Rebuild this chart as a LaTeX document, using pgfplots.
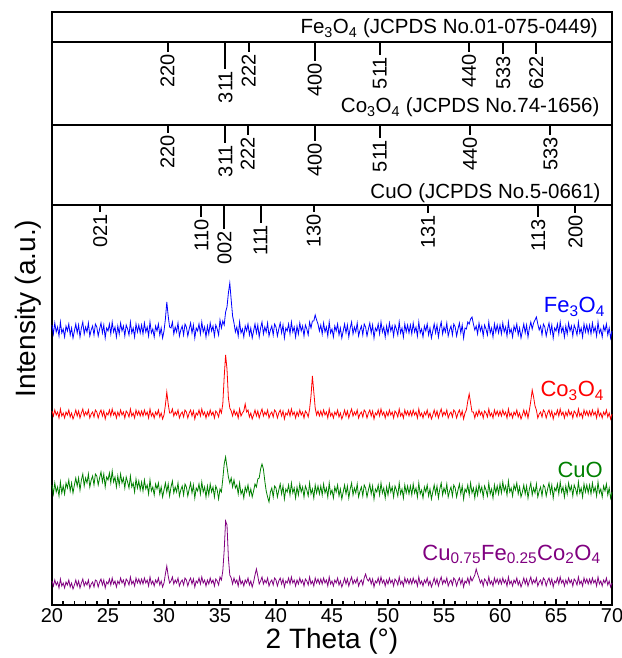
\documentclass[border=0pt]{standalone}
\usepackage{fontspec}
\setmainfont{Liberation Sans}
\usepackage{pgfplots}
\usepackage{pgfplotstable}
\pgfplotsset{compat=1.18}
\definecolor{cblue}{RGB}{0,0,255}
\definecolor{cred}{RGB}{255,0,0}
\definecolor{cgreen}{RGB}{0,128,0}
\definecolor{cpurple}{RGB}{128,0,128}
\newcommand{\titlefont}{\fontsize{20.5}{24}\selectfont}
\newcommand{\stickfont}{\fontsize{20}{22}\selectfont}
\newcommand{\serfont}{\fontsize{22}{26}\selectfont}
% columns: 2theta, Fe3O4, Co3O4, CuO, Cu0.75Fe0.25Co2O4 (offset intensities)
\pgfplotstableread{
x fe co cu mix
20 280 194 120 24
20.125 271 189 111 19
20.25 282 195 122 25
20.375 273 190 113 20
20.5 278 193 118 23
20.625 269 187 109 17
20.75 283 196 123 26
20.875 272 189 112 19
21 276 192 119 22
21.125 268 187 111 17
21.25 279 193 122 23
21.375 274 190 117 20
21.5 281 195 125 25
21.625 270 188 114 18
21.75 277 192 122 22
21.875 267 186 112 16
22 274 190 120 20
22.125 281 195 127 25
22.25 272 189 119 19
22.375 280 194 127 24
22.5 268 187 115 17
22.625 277 192 125 22
22.75 283 196 131 26
22.875 271 189 119 19
23 278 193 127 23
23.125 273 190 122 20
23.25 282 195 131 25
23.375 269 187 118 17
23.5 275 191 125 21
23.625 279 193 129 23
23.75 270 188 120 18
23.875 281 195 131 25
24 278 193 129 24
24.125 269 187 120 18
24.25 276 192 127 23
24.375 282 195 133 26
24.5 272 189 123 20
24.625 280 194 131 25
24.75 267 186 118 17
24.875 277 192 128 23
25 274 190 125 21
25.125 281 195 132 26
25.25 271 189 122 20
25.375 283 196 134 27
25.5 273 190 123 21
25.625 278 193 128 24
25.75 268 187 118 18
25.875 279 193 129 24
26 271 189 120 21
26.125 282 195 131 27
26.25 274 190 122 22
26.375 279 193 127 25
26.5 269 187 117 19
26.625 280 194 128 26
26.75 276 192 123 24
26.875 270 188 117 20
27 283 196 129 28
27.125 272 189 118 21
27.25 277 192 122 24
27.375 268 187 113 19
27.5 281 195 126 27
27.625 273 190 117 22
27.75 280 194 124 26
27.875 272 189 115 21
28 280 194 123 26
28.125 271 189 114 21
28.25 282 195 125 27
28.375 273 190 116 22
28.5 278 193 120 25
28.625 269 187 111 19
28.75 283 196 125 28
28.875 272 189 114 21
29 276 192 118 24
29.125 268 187 110 19
29.25 279 193 121 25
29.375 274 190 116 22
29.5 281 195 122 27
29.625 270 188 111 20
29.75 277 192 118 24
29.875 267 186 108 18
30 274 190 115 22
30.125 286 200 122 31
30.25 303 213 113 39
30.375 289 201 121 29
30.5 278 192 109 22
30.625 277 192 118 24
30.75 283 196 124 28
30.875 271 189 112 21
31 278 193 118 25
31.125 273 190 113 22
31.25 282 195 122 27
31.375 269 187 109 19
31.5 275 191 115 23
31.625 279 193 119 25
31.75 270 188 110 20
31.875 281 195 121 27
32 278 193 118 25
32.125 269 187 109 19
32.25 276 192 116 24
32.375 282 195 122 27
32.5 272 189 112 21
32.625 280 194 120 26
32.75 267 186 107 18
32.875 277 192 117 24
33 274 190 114 22
33.125 281 195 121 27
33.25 271 189 111 21
33.375 283 196 123 28
33.5 273 190 113 22
33.625 278 193 118 25
33.75 268 187 108 19
33.875 279 193 119 25
34 271 189 110 21
34.125 282 195 121 27
34.25 274 190 113 22
34.375 279 193 118 25
34.5 269 187 108 19
34.625 280 194 119 26
34.75 276 192 115 24
34.875 270 188 106 20
35 285 196 116 28
35.125 277 192 113 25
35.25 284 201 126 34
35.375 280 228 141 55
35.5 293 250 148 84
35.625 298 236 138 80
35.75 312 207 128 47
35.875 322 197 122 30
36 305 194 127 27
36.125 289 189 118 21
36.25 282 195 125 27
36.375 273 190 117 22
36.5 278 193 120 25
36.625 269 187 111 19
36.75 283 196 122 28
36.875 272 189 111 21
37 276 192 115 24
37.125 268 194 107 19
37.25 279 201 118 25
37.375 274 193 113 22
37.5 281 195 120 27
37.625 270 188 110 20
37.75 277 192 116 24
37.875 267 186 108 18
38 274 190 114 23
38.125 281 195 121 30
38.25 272 189 118 36
38.375 280 194 126 29
38.5 268 187 127 21
38.625 277 192 136 24
38.75 283 196 141 28
38.875 271 189 136 21
39 278 193 124 25
39.125 273 190 114 22
39.25 282 195 108 27
39.375 269 187 103 19
39.5 275 191 113 23
39.625 279 193 117 25
39.75 270 188 108 20
39.875 281 195 119 27
40 278 193 117 25
40.125 269 187 108 19
40.25 276 192 115 24
40.375 282 195 121 27
40.5 272 189 111 21
40.625 280 194 119 26
40.75 267 186 106 18
40.875 277 192 116 24
41 274 190 113 22
41.125 281 195 120 27
41.25 271 189 110 21
41.375 283 196 122 28
41.5 273 190 112 22
41.625 278 193 117 25
41.75 268 187 107 19
41.875 279 193 118 25
42 271 189 110 21
42.125 282 195 121 27
42.25 274 190 113 22
42.375 279 193 118 25
42.5 269 187 108 19
42.625 280 194 119 26
42.75 276 192 115 24
42.875 270 188 109 20
43 283 196 122 28
43.125 277 209 111 21
43.25 284 229 116 24
43.375 284 213 107 19
43.5 290 197 120 27
43.625 285 190 112 22
43.75 281 194 119 26
43.875 274 189 111 21
44 280 194 119 26
44.125 271 189 110 21
44.25 282 195 121 27
44.375 273 190 112 22
44.5 278 193 117 25
44.625 269 187 108 19
44.75 283 196 122 28
44.875 272 189 111 21
45 276 192 115 24
45.125 268 187 107 19
45.25 279 193 118 25
45.375 274 190 113 22
45.5 281 195 120 27
45.625 270 188 109 20
45.75 277 192 116 24
45.875 267 186 106 18
46 274 190 113 22
46.125 281 195 120 27
46.25 272 189 111 21
46.375 280 194 119 26
46.5 268 187 107 19
46.625 277 192 116 24
46.75 283 196 122 28
46.875 271 189 110 21
47 278 193 117 25
47.125 273 190 112 22
47.25 282 195 121 27
47.375 269 187 108 19
47.5 275 191 114 23
47.625 279 193 118 25
47.75 270 188 109 20
47.875 281 195 120 27
48 278 193 117 31
48.125 269 187 108 26
48.25 276 192 115 24
48.375 282 195 121 27
48.5 272 189 111 21
48.625 280 194 119 26
48.75 267 186 106 18
48.875 277 192 116 24
49 274 190 113 22
49.125 281 195 120 27
49.25 271 189 110 21
49.375 283 196 122 28
49.5 273 190 112 22
49.625 278 193 117 25
49.75 268 187 107 19
49.875 279 193 118 25
50 271 189 110 21
50.125 282 195 121 27
50.25 274 190 113 22
50.375 279 193 118 25
50.5 269 187 108 19
50.625 280 194 119 26
50.75 276 192 115 24
50.875 270 188 109 20
51 283 196 122 28
51.125 272 189 111 21
51.25 277 192 116 24
51.375 268 187 107 19
51.5 281 195 120 27
51.625 273 190 112 22
51.75 280 194 119 26
51.875 272 189 111 21
52 280 194 119 26
52.125 271 189 110 21
52.25 282 195 121 27
52.375 273 190 112 22
52.5 278 193 117 25
52.625 269 187 108 19
52.75 283 196 122 28
52.875 272 189 111 21
53 276 192 115 24
53.125 268 187 107 19
53.25 279 193 118 25
53.375 274 190 113 22
53.5 281 195 120 27
53.625 270 188 109 20
53.75 277 192 116 24
53.875 267 186 106 18
54 274 190 113 22
54.125 281 195 120 27
54.25 272 189 111 21
54.375 280 194 119 26
54.5 268 187 107 19
54.625 277 192 116 24
54.75 283 196 122 28
54.875 271 189 110 21
55 278 193 117 25
55.125 273 190 112 22
55.25 282 195 121 27
55.375 269 187 108 19
55.5 275 191 114 23
55.625 279 193 118 25
55.75 270 188 109 20
55.875 281 195 120 27
56 278 193 117 25
56.125 269 187 108 19
56.25 276 192 115 24
56.375 282 195 121 27
56.5 272 189 111 21
56.625 280 194 119 26
56.75 267 186 106 18
56.875 277 192 116 24
57 276 195 113 22
57.125 283 204 120 27
57.25 281 211 110 21
57.375 286 202 122 28
57.5 288 193 112 24
57.625 281 193 117 27
57.75 275 187 107 30
57.875 279 193 118 36
58 271 189 110 31
58.125 282 195 121 27
58.25 274 190 113 22
58.375 279 193 118 25
58.5 269 187 108 19
58.625 280 194 119 26
58.75 276 192 115 24
58.875 270 188 109 20
59 283 196 122 28
59.125 272 189 111 21
59.25 277 192 116 24
59.375 268 187 107 19
59.5 281 195 120 27
59.625 273 190 112 22
59.75 280 194 119 26
59.875 272 189 111 21
60 280 194 121 26
60.125 271 189 112 21
60.25 282 195 123 27
60.375 273 190 114 22
60.5 278 193 119 25
60.625 269 187 110 19
60.75 283 196 124 28
60.875 272 189 113 21
61 276 192 117 24
61.125 268 187 109 19
61.25 279 193 120 25
61.375 274 190 115 22
61.5 281 195 122 27
61.625 270 188 111 20
61.75 277 192 118 24
61.875 267 186 108 18
62 274 190 113 22
62.125 281 195 120 27
62.25 272 189 111 21
62.375 280 194 119 26
62.5 268 187 107 19
62.625 277 195 116 24
62.75 283 204 122 28
62.875 276 215 110 21
63 282 208 117 25
63.125 285 199 112 22
63.25 288 195 121 27
63.375 281 187 108 19
63.5 275 191 114 23
63.625 279 193 118 25
63.75 270 188 109 20
63.875 281 195 120 27
64 278 193 118 25
64.125 269 187 109 19
64.25 276 192 116 24
64.375 282 195 122 27
64.5 272 189 112 21
64.625 280 194 120 26
64.75 267 186 107 18
64.875 277 192 117 24
65 274 190 114 22
65.125 281 195 121 27
65.25 271 189 111 21
65.375 283 196 123 28
65.5 273 190 113 22
65.625 278 193 118 25
65.75 268 187 108 19
65.875 279 193 119 25
66 271 189 111 21
66.125 282 195 122 27
66.25 274 190 114 22
66.375 279 193 119 25
66.5 269 187 109 19
66.625 280 194 120 26
66.75 276 192 116 24
66.875 270 188 110 20
67 283 196 123 28
67.125 272 189 112 21
67.25 277 192 117 24
67.375 268 187 108 19
67.5 281 195 121 27
67.625 273 190 113 22
67.75 280 194 120 26
67.875 272 189 112 21
68 280 194 120 26
68.125 271 189 111 21
68.25 282 195 122 27
68.375 273 190 113 22
68.5 278 193 118 25
68.625 269 187 109 19
68.75 283 196 123 28
68.875 272 189 112 21
69 276 192 116 24
69.125 268 187 108 19
69.25 279 193 119 25
69.375 274 190 114 22
69.5 281 195 121 27
69.625 270 188 110 20
69.75 277 192 117 24
69.875 267 186 107 18
70 274 191 113 22
}\xrd
\begin{document}
\begin{tikzpicture}
\begin{axis}[
  width=560pt, height=593pt, scale only axis,
  xmin=20, xmax=70, ymin=0, ymax=593,
  xtick={20,25,...,70}, minor x tick num=4,
  ytick=\empty,
  xtick pos=bottom,
  tick align=inside,
  major tick length=6pt, minor tick length=4pt,
  every tick/.style={black, line width=1.5pt},
  axis line style={line width=2pt},
  clip=false,
  /pgf/number format/assume math mode=true,
  tick label style={font=\fontsize{20}{24}\selectfont},
  xlabel={2 Theta (°)},
  ylabel={Intensity (a.u.)},
  every axis x label/.style={at={(axis description cs:0.5,-0.0607)}, anchor=center, font=\fontsize{28}{32}\selectfont},
  every axis y label/.style={at={(axis description cs:-0.043,0.5)}, rotate=90, anchor=center, font=\fontsize{28}{32}\selectfont},
]
\coordinate (SW) at (rel axis cs:0,0);
\coordinate (NE) at (rel axis cs:1,1);

\addplot[cblue, line width=0.8pt] table[x=x, y=fe] {\xrd};
\addplot[cred, line width=0.8pt] table[x=x, y=co] {\xrd};
\addplot[cgreen, line width=0.8pt] table[x=x, y=cu] {\xrd};
\addplot[cpurple, line width=0.8pt] table[x=x, y=mix] {\xrd};

% panel separators
\draw[line width=2pt] (axis cs:20,563) -- (axis cs:70,563);
\draw[line width=2pt] (axis cs:20,480) -- (axis cs:70,480);
\draw[line width=2pt] (axis cs:20,400) -- (axis cs:70,400);

% reference sticks: Fe3O4
\addplot[black, line width=2pt, unbounded coords=jump] coordinates {
(30.32,563) (30.32,553) (30.32,nan)
(35.48,563) (35.48,536) (35.48,nan)
(37.55,563) (37.55,553) (37.55,nan)
(43.46,563) (43.46,544) (43.46,nan)
(49.27,563) (49.27,550) (49.27,nan)
(57.24,563) (57.24,553) (57.24,nan)
(60.29,563) (60.29,551) (60.29,nan)
(63.24,563) (63.24,551)
};
% Co3O4
\addplot[black, line width=2pt, unbounded coords=jump] coordinates {
(30.32,480) (30.32,472) (30.32,nan)
(35.48,480) (35.48,462) (35.48,nan)
(37.47,480) (37.47,470) (37.47,nan)
(43.46,480) (43.46,464) (43.46,nan)
(49.27,480) (49.27,467) (49.27,nan)
(57.33,480) (57.33,470) (57.33,nan)
(64.5,480) (64.5,470)
};
% CuO
\addplot[black, line width=2pt, unbounded coords=jump] coordinates {
(24.3,400) (24.3,393) (24.3,nan)
(33.34,400) (33.34,388) (33.34,nan)
(35.4,400) (35.4,376) (35.4,nan)
(38.62,400) (38.62,382) (38.62,nan)
(43.37,400) (43.37,393) (43.37,nan)
(53.57,400) (53.57,392) (53.57,nan)
(63.42,400) (63.42,388) (63.42,nan)
(66.73,400) (66.73,392)
};

% stick labels
\begin{scope}[every node/.style={rotate=90, anchor=east, font=\stickfont, inner sep=2pt}]
\node at (axis cs:30.32,553) {220};
\node at (axis cs:35.48,536) {311};
\node at (axis cs:37.55,553) {222};
\node at (axis cs:43.46,544) {400};
\node at (axis cs:49.27,550) {511};
\node at (axis cs:57.24,553) {440};
\node at (axis cs:60.29,551) {533};
\node at (axis cs:63.24,551) {622};
\node at (axis cs:30.32,472) {220};
\node at (axis cs:35.48,462) {311};
\node at (axis cs:37.47,470) {222};
\node at (axis cs:43.46,464) {400};
\node at (axis cs:49.27,467) {511};
\node at (axis cs:57.33,470) {440};
\node at (axis cs:64.5,470) {533};
\node at (axis cs:24.3,393) {021};
\node at (axis cs:33.34,388) {110};
\node at (axis cs:35.4,376) {002};
\node at (axis cs:38.62,382) {111};
\node at (axis cs:43.37,393) {130};
\node at (axis cs:53.57,392) {131};
\node at (axis cs:63.42,388) {113};
\node at (axis cs:66.73,392) {200};
\end{scope}

% panel titles
\node[anchor=base east, inner sep=0pt, font=\titlefont] at (axis cs:68.75,571) {Fe\textsubscript{3}O\textsubscript{4} (JCPDS No.01-075-0449)};
\node[anchor=base east, inner sep=0pt, font=\titlefont] at (axis cs:68.9,492) {Co\textsubscript{3}O\textsubscript{4} (JCPDS No.74-1656)};
\node[anchor=base east, inner sep=0pt, font=\titlefont] at (axis cs:69.0,406) {CuO (JCPDS No.5-0661)};

% series labels
\node[anchor=base east, inner sep=0pt, font=\serfont, text=cblue] at (axis cs:69.38,292) {Fe\textsubscript{3}O\textsubscript{4}};
\node[anchor=base east, inner sep=0pt, font=\serfont, text=cred] at (axis cs:69.3,208) {Co\textsubscript{3}O\textsubscript{4}};
\node[anchor=base east, inner sep=0pt, font=\serfont, text=cgreen] at (axis cs:69.2,127) {CuO};
\node[anchor=base east, inner sep=0pt, font=\serfont, text=cpurple] at (axis cs:69.0,45) {Cu\textsubscript{0.75}Fe\textsubscript{0.25}Co\textsubscript{2}O\textsubscript{4}};
\end{axis}
\pgfresetboundingbox
\path[use as bounding box] ([xshift=-52pt,yshift=-53pt]SW) rectangle ([xshift=10pt,yshift=12pt]NE);
\end{tikzpicture}
\end{document}
